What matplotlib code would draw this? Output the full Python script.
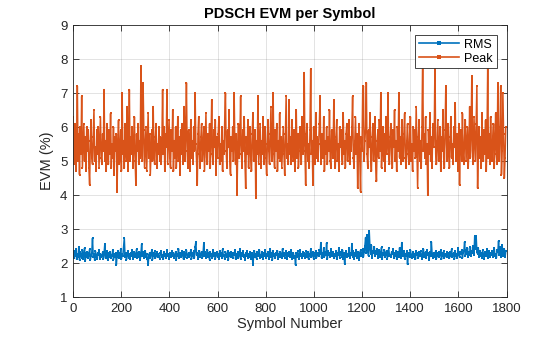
import numpy as np
import matplotlib
matplotlib.use("Agg")
import matplotlib.pyplot as plt

# EVM values, one sample every 3 symbols
symbol_step = 3

peak_evm = [
    6.3, 4.9, 5.6, 6.1, 4.7, 5.4, 7.2, 5.0, 5.8, 4.6, 6.0, 5.2, 6.9, 4.8, 5.5, 6.1, 5.0, 5.7, 4.7, 6.0,
    5.3, 5.9, 4.8, 4.3, 5.6, 6.2, 5.1, 4.9, 5.7, 6.5, 5.0, 5.4, 4.7, 5.9, 5.2, 6.0, 4.8, 5.5, 6.3, 5.1,
    4.9, 5.8, 5.3, 7.1, 5.0, 5.6, 4.7, 6.1, 5.4, 4.9, 5.9, 5.2, 6.4, 4.8, 5.5, 5.1, 6.0, 4.6, 5.7, 5.3,
    5.8, 4.1, 5.5, 6.2, 4.9, 5.3, 5.9, 4.7, 7.0, 5.2, 5.6, 4.8, 6.1, 5.4, 5.0, 6.6, 4.7, 5.5, 7.1, 5.0,
    5.7, 5.2, 6.0, 4.8, 5.4, 6.3, 5.0, 4.3, 5.8, 5.3, 6.1, 4.9, 5.6, 5.1, 7.8, 5.5, 5.0, 7.3, 5.9, 4.8,
    5.4, 6.0, 4.7, 5.6, 6.4, 5.1, 5.8, 4.6, 5.3, 5.9, 5.0, 6.6, 5.2, 4.9, 5.7, 6.1, 4.8, 5.5, 5.2, 6.0,
    5.0, 5.7, 4.9, 5.5, 7.1, 5.2, 6.0, 4.7, 5.8, 5.4, 7.1, 4.9, 5.6, 6.2, 5.1, 4.8, 5.9, 5.3, 6.5, 4.7,
    5.6, 5.1, 6.0, 4.8, 5.4, 6.3, 5.0, 5.7, 4.6, 5.9, 5.2, 6.1, 4.9, 5.5, 6.6, 5.0, 5.8, 7.3, 5.3, 4.8,
    5.9, 5.4, 4.7, 6.2, 5.1, 5.6, 4.9, 6.0, 5.3, 7.0, 5.5, 5.0, 4.3, 5.8, 6.3, 5.2, 4.8, 5.7, 6.1, 5.0,
    5.4, 6.0, 4.7, 5.5, 6.4, 5.1, 4.9, 5.8, 5.3, 6.1, 4.8, 5.6, 6.8, 5.2, 4.9, 5.9, 5.4, 6.2, 4.6, 5.7,
    5.1, 5.8, 6.3, 4.9, 5.5, 5.0, 6.0, 4.7, 5.6, 5.2, 6.2, 7.0, 5.3, 4.8, 5.9, 5.4, 6.5, 5.0, 4.6, 5.7,
    5.3, 6.0, 5.0, 7.0, 5.5, 4.9, 5.8, 4.0, 5.4, 6.1, 5.1, 5.6, 6.9, 5.2, 4.8, 5.9, 5.3, 6.3, 5.0, 4.2,
    5.7, 5.2, 6.2, 4.8, 5.5, 6.0, 5.1, 4.7, 5.8, 6.4, 5.0, 5.4, 5.9, 3.9, 5.6, 5.2, 6.9, 4.9, 5.5, 6.1,
    4.8, 5.6, 5.2, 6.3, 4.9, 5.7, 6.0, 5.1, 4.6, 5.5, 6.2, 5.3, 4.9, 5.8, 6.6, 5.0, 5.4, 7.0, 5.2, 4.8,
    5.9, 5.3, 6.1, 4.7, 5.6, 5.1, 6.4, 5.0, 5.7, 4.8, 5.4, 6.0, 5.2, 4.6, 5.8, 6.9, 5.1, 5.5, 4.9, 6.8,
    5.2, 5.7, 4.9, 6.2, 5.4, 5.0, 5.9, 4.7, 5.5, 6.5, 5.1, 5.8, 4.8, 5.3, 6.0, 5.6, 4.9, 6.3, 5.2, 5.5,
    7.6, 5.3, 4.3, 5.8, 6.1, 5.0, 5.5, 4.8, 5.9, 7.7, 5.2, 5.6, 4.3, 6.0, 5.4, 4.9, 6.4, 5.1, 5.7, 5.0,
    5.5, 6.1, 6.9, 4.9, 5.4, 5.8, 5.1, 6.3, 4.7, 5.6, 5.2, 6.0, 4.9, 5.7, 5.3, 6.5, 5.0, 4.8, 5.9, 5.4,
    5.1, 6.8, 5.3, 4.8, 5.7, 6.2, 5.0, 5.5, 4.7, 6.0, 5.4, 5.9, 5.1, 4.9, 6.4, 5.2, 5.6, 4.8, 5.8, 6.1,
    5.0, 5.5, 6.2, 4.9, 5.7, 5.3, 6.0, 6.9, 5.1, 4.8, 5.6, 6.3, 5.2, 5.8, 4.2, 5.4, 6.1, 5.0, 4.1, 5.7,
    5.3, 7.1, 7.2, 5.0, 5.6, 6.0, 7.3, 5.2, 4.8, 5.9, 5.4, 6.4, 5.1, 4.7, 5.7, 6.1, 5.0, 5.5, 6.3, 4.9,
    4.4, 5.6, 5.9, 5.1, 6.2, 5.3, 7.0, 4.8, 5.5, 6.0, 5.0, 5.8, 4.7, 6.3, 5.2, 5.6, 7.0, 5.1, 4.9, 5.7,
    6.1, 5.2, 4.8, 5.9, 5.4, 6.5, 5.0, 5.6, 4.7, 6.0, 5.3, 7.0, 5.1, 5.7, 4.9, 6.2, 5.4, 5.0, 5.8, 6.4,
    5.1, 4.8, 5.6, 6.1, 5.2, 4.9, 5.8, 6.3, 5.0, 5.5, 4.7, 6.0, 5.3, 5.9, 5.1, 6.6, 5.4, 4.2, 5.7, 6.2,
    5.0, 5.6, 4.8, 6.0, 8.1, 5.3, 5.8, 5.1, 6.3, 4.9, 5.5, 4.0, 5.9, 5.2, 6.4, 5.0, 5.7, 4.8, 6.1, 5.4,
    5.8, 7.9, 5.2, 4.9, 5.6, 6.2, 5.0, 5.4, 6.0, 4.7, 5.7, 5.3, 6.5, 5.1, 4.8, 5.9, 7.2, 5.5, 5.0, 6.1,
    5.3, 4.8, 5.7, 6.3, 5.1, 5.5, 4.9, 6.0, 5.4, 6.7, 5.0, 5.8, 5.2, 4.7, 6.1, 4.3, 5.6, 5.9, 5.0, 6.4,
    5.2, 4.9, 5.7, 6.2, 5.0, 5.5, 6.0, 4.8, 5.4, 6.6, 5.1, 5.8, 7.5, 5.3, 4.9, 6.3, 5.6, 5.0, 6.1, 7.2,
    4.2, 5.5, 6.0, 5.1, 5.7, 4.8, 6.4, 5.3, 5.0, 5.9, 5.2, 6.2, 4.7, 5.6, 7.8, 5.1, 5.8, 4.9, 6.3, 5.4,
    5.0, 5.7, 6.1, 4.8, 5.5, 6.4, 5.2, 4.9, 7.3, 5.6, 5.0, 6.0, 7.2, 4.6, 5.3, 7.0, 5.8, 4.5, 5.1, 6.0,
]

rms_evm = [
    2.28, 2.15, 2.34, 2.20, 2.42, 2.11, 2.26, 2.18, 2.47, 2.09, 2.31, 2.22, 2.16, 2.38, 2.12, 2.25, 2.44, 2.07, 2.29, 2.19,
    2.33, 2.14, 2.24, 2.40, 2.10, 2.21, 2.30, 2.73, 2.17, 2.27, 2.08, 2.35, 2.20, 2.13, 2.29, 2.23, 2.37, 2.11, 2.26, 2.18,
    2.22, 2.31, 2.12, 2.27, 2.55, 2.16, 2.24, 2.36, 2.09, 2.28, 2.19, 2.33, 2.14, 2.25, 2.21, 2.39, 2.10, 2.27, 2.17, 2.30,
    1.95, 2.23, 2.34, 2.15, 2.28, 2.19, 2.41, 2.12, 2.26, 2.21, 2.47, 2.73, 2.18, 2.30, 2.10, 2.24, 2.35, 2.16, 2.27, 2.13,
    2.29, 2.20, 2.37, 2.11, 2.25, 2.32, 2.17, 2.22, 2.40, 2.14, 2.28, 2.19, 2.33, 2.09, 2.26, 2.55, 2.21, 2.31, 2.15, 2.24,
    2.36, 2.18, 2.27, 2.12, 1.94, 2.23, 2.30, 2.16, 2.25, 2.38, 2.10, 2.28, 2.20, 2.34, 2.14, 2.24, 2.31, 2.17, 2.26, 2.21,
    2.13, 2.29, 2.35, 2.19, 2.24, 2.11, 2.32, 2.22, 2.27, 2.15, 2.39, 2.20, 2.26, 2.12, 2.30, 2.23, 2.17, 2.36, 2.21, 2.28,
    2.16, 2.25, 2.33, 2.10, 2.27, 2.20, 2.42, 2.14, 2.29, 2.22, 2.18, 2.35, 2.24, 2.11, 2.31, 2.19, 2.26, 2.37, 2.15, 2.23,
    2.30, 2.17, 2.25, 2.38, 2.12, 2.28, 2.21, 2.34, 2.16, 2.47, 2.61, 2.23, 2.29, 2.13, 2.26, 2.36, 2.19, 2.24, 2.32, 2.15,
    2.27, 2.58, 2.20, 2.31, 2.14, 2.25, 2.39, 2.18, 2.28, 2.10, 2.33, 2.22, 2.26, 2.16, 2.37, 2.21, 2.29, 2.12, 2.24, 2.32,
    2.19, 2.27, 2.13, 2.34, 2.22, 2.29, 2.15, 2.40, 2.20, 2.25, 2.11, 2.31, 2.24, 2.18, 2.35, 2.09, 2.28, 2.21, 2.33, 2.17,
    2.26, 2.14, 2.30, 2.23, 2.37, 2.12, 2.27, 2.19, 2.32, 2.16, 2.24, 2.41, 2.13, 2.28, 2.21, 2.34, 2.18, 2.25, 2.10, 2.30,
    2.22, 2.35, 2.15, 2.27, 2.19, 2.31, 2.12, 2.24, 2.29, 1.94, 2.21, 2.36, 2.17, 2.26, 2.13, 2.32, 2.20, 2.28, 2.38, 2.14,
    2.25, 2.18, 2.33, 2.11, 2.29, 2.22, 2.37, 2.16, 2.27, 2.20, 2.31, 2.13, 2.24, 2.40, 2.17, 2.28, 2.10, 2.34, 2.21, 2.26,
    2.15, 2.30, 2.23, 2.36, 2.12, 2.27, 2.19, 2.33, 2.24, 2.14, 2.42, 2.20, 2.29, 2.16, 2.25, 2.35, 2.11, 2.28, 2.22, 2.31,
    2.18, 2.26, 2.37, 2.13, 2.24, 2.30, 2.16, 2.21, 1.94, 2.28, 2.19, 2.34, 2.23, 2.12, 2.39, 2.20, 2.27, 2.15, 2.32, 2.22,
    2.29, 2.14, 2.25, 2.36, 2.19, 2.31, 2.11, 2.27, 2.22, 2.40, 2.17, 2.26, 2.33, 2.13, 2.28, 2.21, 2.35, 2.16, 2.24, 2.30,
    2.20, 2.38, 2.27, 2.60, 2.15, 2.29, 2.22, 2.44, 2.18, 2.31, 2.25, 2.59, 2.12, 2.34, 2.23, 2.28, 2.17, 2.41, 2.21, 2.26,
    2.32, 2.14, 2.27, 2.20, 2.36, 2.11, 2.29, 2.23, 2.45, 2.16, 2.25, 2.33, 2.19, 2.38, 2.13, 2.28, 1.97, 2.24, 2.35, 2.18,
    2.27, 2.21, 2.43, 2.15, 2.30, 2.24, 2.57, 2.19, 2.34, 2.12, 2.28, 2.22, 2.39, 2.16, 2.26, 2.31, 2.10, 2.29, 2.37, 2.20,
    2.25, 2.41, 2.18, 2.33, 2.50, 2.75, 2.29, 2.82, 2.38, 2.21, 2.94, 2.45, 2.27, 2.52, 2.16, 2.36, 2.30, 2.48, 2.20, 2.34,
    2.26, 2.42, 2.14, 2.31, 2.37, 2.19, 2.28, 2.46, 2.12, 2.30, 2.24, 2.39, 2.17, 2.27, 2.35, 2.13, 2.29, 2.43, 2.21, 2.25,
    2.18, 2.33, 2.26, 2.40, 2.15, 2.29, 2.22, 2.36, 2.11, 2.27, 2.31, 2.19, 2.45, 2.24, 2.16, 2.60, 2.28, 2.20, 2.34, 2.13,
    2.27, 2.22, 2.35, 1.96, 2.24, 2.30, 2.17, 2.38, 2.21, 2.14, 2.29, 2.33, 2.19, 2.26, 2.11, 2.36, 2.23, 2.28, 2.15, 2.31,
    2.20, 2.34, 2.25, 2.12, 2.29, 2.41, 2.18, 2.26, 2.32, 2.15, 2.37, 2.23, 2.28, 2.10, 2.33, 2.21, 2.62, 2.27, 2.16, 2.30,
    2.24, 2.19, 2.35, 2.13, 2.28, 2.22, 2.31, 2.17, 2.26, 2.38, 2.11, 2.29, 2.21, 2.34, 2.15, 2.27, 2.24, 2.18, 2.32, 2.20,
    2.28, 2.14, 2.33, 2.22, 2.40, 2.17, 2.25, 2.30, 2.12, 2.36, 2.21, 2.27, 2.16, 2.43, 2.24, 2.19, 2.31, 2.26, 2.38, 2.15,
    2.29, 2.35, 2.62, 2.21, 2.38, 2.27, 2.44, 2.18, 2.33, 2.25, 2.47, 2.20, 2.36, 2.30, 2.51, 2.24, 2.78, 2.41, 2.79, 2.32,
    2.27, 2.43, 2.19, 2.35, 2.22, 2.30, 2.16, 2.38, 2.25, 2.13, 2.32, 2.21, 2.28, 2.40, 2.15, 2.26, 2.34, 2.19, 2.29, 2.23,
    2.36, 2.18, 2.30, 2.44, 2.22, 2.27, 2.15, 2.39, 2.31, 2.65, 2.24, 2.47, 2.19, 2.33, 2.52, 2.21, 2.28, 2.40, 2.17, 2.35,
]

symbols = np.arange(len(peak_evm)) * symbol_step

x_ticks = list(range(0, 2000, 200))
y_ticks = list(range(1, 10))

blue = "#0072BD"
orange = "#D95319"
axis_col = "#262626"

plt.rcParams['font.family'] = ['Liberation Sans', 'DejaVu Sans']

fig = plt.figure(figsize=(5.6, 3.37), dpi=100)
ax = fig.add_axes([73 / 560, 40 / 337, 433.5 / 560, 272 / 337])

ax.plot(symbols, rms_evm, color=blue, lw=1.1, marker='s', ms=2.0, mew=0, label='RMS')
ax.plot(symbols, peak_evm, color=orange, lw=1.1, marker='s', ms=2.0, mew=0, label='Peak')

ax.set_xlim(0, 1800)
ax.set_ylim(1, 9)
ax.set_xticks(x_ticks)
ax.set_yticks(y_ticks)
ax.grid(True, color='#262626', alpha=0.15, lw=0.6)
ax.set_axisbelow(True)

ax.tick_params(direction='in', top=True, right=True, length=4, width=0.6,
               colors=axis_col, labelsize=9.5, pad=4)
for sp in ax.spines.values():
    sp.set_color(axis_col)
    sp.set_linewidth(0.6)

ax.set_title('PDSCH EVM per Symbol', fontsize=10.5, fontweight='bold', color='black', pad=5)
ax.set_xlabel('Symbol Number', fontsize=10.5, color=axis_col, labelpad=2)
ax.set_ylabel('EVM (%)', fontsize=10.5, color=axis_col, labelpad=4)

leg = ax.legend(loc='upper right', fontsize=9, fancybox=False, framealpha=1,
                edgecolor=axis_col, handlelength=3.2, borderpad=0.3,
                labelspacing=0.15, handletextpad=0.4, borderaxespad=0.8)
leg.get_frame().set_linewidth(0.6)
for line in leg.get_lines():
    line.set_linewidth(1.2)
    line.set_markersize(3)

fig.savefig('out.png', dpi=100)
